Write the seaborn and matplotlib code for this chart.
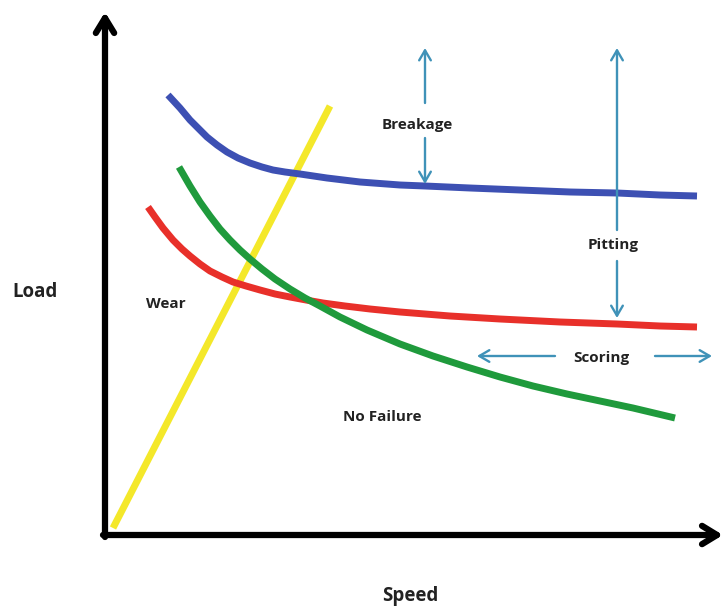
"""Gear failure regions: load vs speed sketch."""

import matplotlib

matplotlib.use("Agg")
import matplotlib.pyplot as plt
import pandas as pd
import seaborn as sns

# curve points (pixel-like units, y grows downward)
blue_x = [168, 180, 190, 200, 207, 217, 227, 238, 250, 262, 273, 285, 300,
          327, 360, 400, 425, 470, 520, 570, 617, 660, 697]
blue_y = [95, 108, 120, 130, 137, 145, 152, 158, 163, 167, 170, 172, 174,
          178, 182, 185, 186, 188, 190, 192, 193, 195, 196]

green_x = [179, 190, 200, 210, 220, 230, 240, 250, 262, 275, 290, 305, 320,
           340, 367, 400, 433, 467, 500, 533, 567, 600, 633, 675]
green_y = [167, 186, 202, 216, 229, 240, 250, 259, 269, 279, 289, 298, 306,
           317, 330, 344, 356, 367, 377, 386, 394, 401, 408, 418]

red_x = [148, 155, 163, 173, 182, 190, 200, 210, 222, 233, 246, 260, 275,
         290, 306, 323, 345, 370, 400, 450, 500, 560, 617, 660, 697]
red_y = [207, 217, 228, 240, 249, 256, 264, 271, 277, 282, 286, 290, 294,
         297, 300, 303, 306, 309, 312, 316, 319, 322, 324, 326, 327]

yellow_x = [113, 330]
yellow_y = [528, 106]

LINE_W = 5.0
ARROW_COLOR = "#3f92b8"

sns.set_theme(style="white")
plt.rcParams["font.family"] = ["Open Sans", "DejaVu Sans"]

fig = plt.figure(figsize=(7.27, 6.09), dpi=100)
ax = fig.add_axes([0, 0, 1, 1])
ax.set_xlim(0, 727)
ax.set_ylim(609, 0)
ax.axis("off")

curves = [
    (yellow_x, yellow_y, "#f4e82a"),
    (red_x, red_y, "#e8302a"),
    (green_x, green_y, "#1f9a3c"),
    (blue_x, blue_y, "#3d50b3"),
]
for xs, ys, color in curves:
    df = pd.DataFrame({"speed": xs, "load": ys})
    sns.lineplot(data=df, x="speed", y="load", sort=False, color=color,
                 linewidth=LINE_W, solid_capstyle="butt",
                 solid_joinstyle="round", ax=ax)

# black axes with arrowheads
axis_style = dict(arrowstyle="->,head_length=0.9,head_width=0.55", lw=4.5,
                  color="black", shrinkA=0, shrinkB=0)
ax.annotate("", xy=(105, 12), xytext=(105, 537), arrowprops=axis_style)
ax.annotate("", xy=(723, 535), xytext=(103, 535), arrowprops=axis_style)

# region arrows
small_style = dict(arrowstyle="->,head_length=0.6,head_width=0.35", lw=1.7,
                   color=ARROW_COLOR, shrinkA=0, shrinkB=0)
ax.annotate("", xy=(425, 48), xytext=(425, 103), arrowprops=small_style)
ax.annotate("", xy=(425, 184), xytext=(425, 138), arrowprops=small_style)
ax.annotate("", xy=(617, 48), xytext=(617, 230), arrowprops=small_style)
ax.annotate("", xy=(617, 318), xytext=(617, 261), arrowprops=small_style)
ax.annotate("", xy=(477, 356), xytext=(555, 356), arrowprops=small_style)
ax.annotate("", xy=(712, 356), xytext=(655, 356), arrowprops=small_style)

text_kw = dict(ha="center", va="center", fontweight="bold", color="#222222")
ax.text(417, 125, "Breakage", fontsize=11, **text_kw)
ax.text(613, 245, "Pitting", fontsize=11, **text_kw)
ax.text(601, 358, "Scoring", fontsize=11, **text_kw)
ax.text(166, 304, "Wear", fontsize=11, **text_kw)
ax.text(382, 417, "No Failure", fontsize=11, **text_kw)
ax.text(35, 292, "Load", fontsize=13.5, **text_kw)
ax.text(410, 596, "Speed", fontsize=13.5, **text_kw)

fig.savefig("out.png", dpi=100)
plt.close(fig)
